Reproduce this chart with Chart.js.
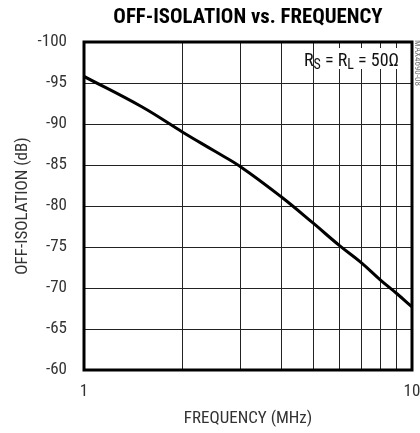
<!DOCTYPE html>
<html>
<head>
<meta charset="utf-8">
<script src="https://cdn.jsdelivr.net/npm/chart.js@4"></script>
<style>
  html, body { margin: 0; padding: 0; background: #fff; }
  #wrap { width: 420px; height: 433px; }
</style>
</head>
<body>
<div id="wrap"><canvas id="chart" width="420" height="433"></canvas></div>
<script>
const freqMHz = [1, 1.5, 2, 2.5, 3, 4, 5, 6, 7, 8, 9, 10];
const offIsolation = [-95.8, -92.1, -89.0, -86.7, -84.8, -81.1, -77.9, -75.2, -73.1, -71.0, -69.3, -67.7];
const xTicks = [1, 2, 3, 4, 5, 6, 7, 8, 9, 10];
const xLabels = { 1: '1', 10: '10' };

const cond = "'Roboto Condensed', 'DejaVu Sans Condensed', sans-serif";

// 枠線・タイトル・注記を描くプラグイン
const decor = {
    id: 'decor',
    afterDraw(chart) {
        const { ctx, chartArea: a } = chart;
        ctx.save();
        // 注記の白い背景
        ctx.fillStyle = '#fff';
        ctx.fillRect(317, 48, 84, 21);
        ctx.fillStyle = '#111';
        ctx.textBaseline = 'alphabetic';
        let x = 304;
        const base = 66;
        const parts = [
            ['R', 18, 0], ['S', 14, 3], [' = R', 18, 0], ['L', 14, 3], [' = 50\u03A9', 18, 0]
        ];
        parts.forEach(([t, s, dy]) => {
            ctx.font = s + 'px ' + cond;
            ctx.fillText(t, x, base + dy);
            x += ctx.measureText(t).width;
        });
        // 外枠
        ctx.strokeStyle = '#000';
        ctx.lineWidth = 3;
        ctx.strokeRect(a.left, a.top, a.right - a.left, a.bottom - a.top);
        // タイトル（幅を合わせる）
        const title = 'OFF-ISOLATION vs. FREQUENCY';
        ctx.font = 'bold 20px ' + cond;
        const size = 20 * 269 / ctx.measureText(title).width;
        ctx.font = 'bold ' + size.toFixed(1) + 'px ' + cond;
        ctx.textAlign = 'center';
        ctx.fillStyle = '#000';
        ctx.fillText(title, (a.left + a.right) / 2, 23);
        // 右端の縦書き番号
        ctx.translate(415, 40);
        ctx.rotate(Math.PI / 2);
        ctx.font = '9px ' + cond;
        ctx.fillStyle = '#777';
        ctx.textAlign = 'left';
        ctx.fillText('MAX4690-08', 0, 0);
        ctx.restore();
    }
};

new Chart(document.getElementById('chart').getContext('2d'), {
    type: 'line',
    data: {
        datasets: [{
            data: freqMHz.map((f, i) => ({ x: f, y: offIsolation[i] })),
            borderColor: '#000',
            borderWidth: 3,
            pointRadius: 0,
            fill: false,
            tension: 0.4
        }]
    },
    options: {
        responsive: false,
        animation: false,
        layout: { padding: { top: 42, right: 8, left: 0, bottom: 0 } },
        plugins: {
            legend: { display: false },
            tooltip: { enabled: false }
        },
        scales: {
            x: {
                type: 'logarithmic',
                min: 1,
                max: 10,
                afterBuildTicks: (s) => { s.ticks = xTicks.map(v => ({ value: v })); },
                afterFit: (s) => { s.height = 63; s.paddingLeft = 0; s.paddingRight = 0; },
                ticks: {
                    autoSkip: false,
                    maxRotation: 0,
                    padding: 12,
                    color: '#333',
                    font: { family: cond, size: 17 },
                    callback: (v) => xLabels[v] || ''
                },
                grid: { color: '#222', lineWidth: 1, drawTicks: false },
                border: { display: false },
                title: {
                    display: true,
                    text: 'FREQUENCY (MHz)',
                    color: '#333',
                    font: { family: cond, size: 17 },
                    padding: { top: 8, bottom: 4 }
                }
            },
            y: {
                reverse: true,
                min: -100,
                max: -60,
                afterFit: (s) => { s.width = 84; },
                ticks: {
                    stepSize: 5,
                    padding: 17,
                    color: '#333',
                    font: { family: cond, size: 17 }
                },
                grid: { color: '#222', lineWidth: 1, drawTicks: false },
                border: { display: false },
                title: {
                    display: true,
                    text: 'OFF-ISOLATION (dB)',
                    color: '#333',
                    font: { family: cond, size: 17 },
                    padding: { top: 13, bottom: 0 }
                }
            }
        }
    },
    plugins: [decor]
});
</script>
</body>
</html>
